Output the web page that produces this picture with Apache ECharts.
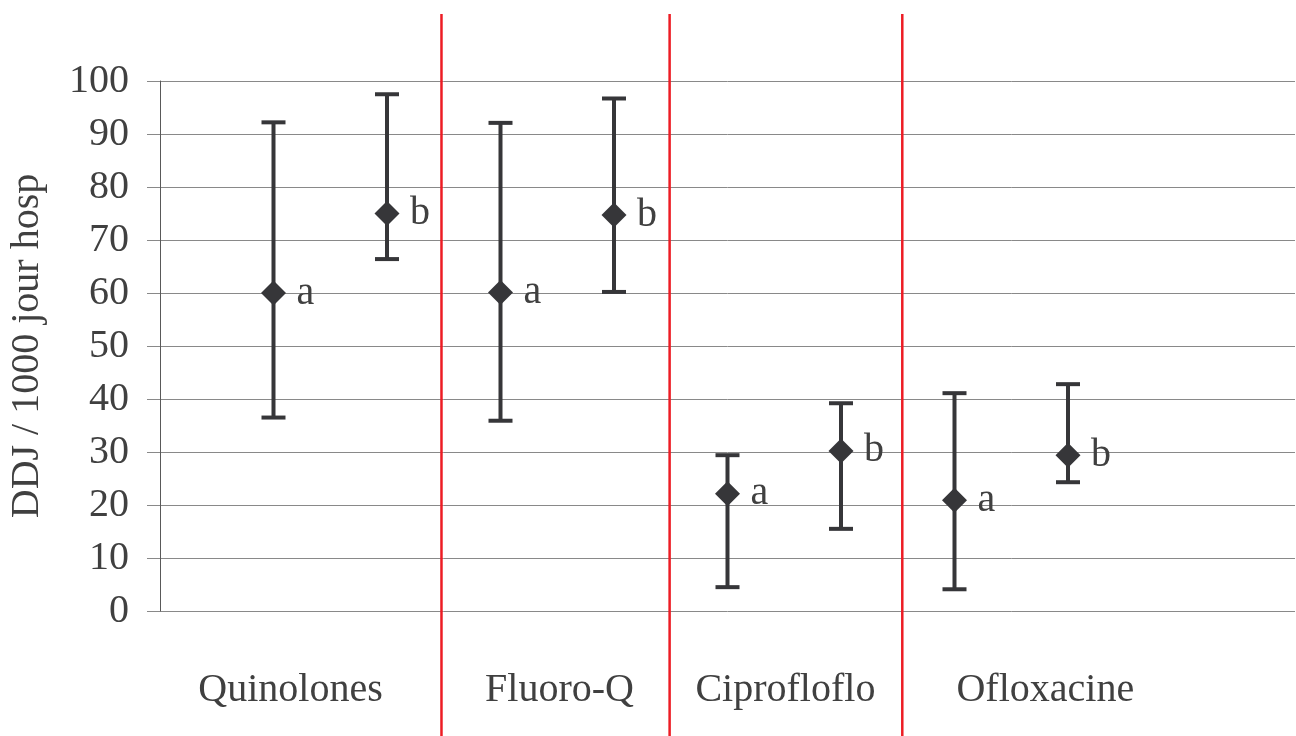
<!DOCTYPE html>
<html>
<head>
<meta charset="utf-8">
<script src="https://cdn.jsdelivr.net/npm/echarts@6/dist/echarts.min.js"></script>
<style>
  html, body { margin: 0; padding: 0; background: #fff; }
  #chart { width: 1296px; height: 736px; }
</style>
</head>
<body>
<div id="chart"></div>
<script>
// Antibiotic consumption (DDD / 1000 patient-days): mean with range, two periods per class
const groups = ['Quinolones', 'Fluoro-Q', 'Ciprofloflo', 'Ofloxacine'];
const groupLabelX = [1.15, 3.52, 5.51, 7.8];
const dividerX = [2.48, 4.49, 6.54];

const pointX = [1, 2, 3, 4, 5, 6, 7, 8];
const pointTag = ['a', 'b', 'a', 'b', 'a', 'b', 'a', 'b'];
const means = [60.0, 75.0, 60.1, 74.7, 22.1, 30.2, 20.9, 29.4];
const upper = [92.2, 97.5, 92.1, 96.7, 29.4, 39.2, 41.1, 42.8];
const lower = [36.5, 66.4, 35.9, 60.2, 4.5, 15.5, 4.1, 24.3];

const yTicks = [0, 10, 20, 30, 40, 50, 60, 70, 80, 90, 100];
const yMin = 0, yMax = 100, yStep = 10;
const axisTitle = 'DDJ / 1000 jour hosp';

const FONT = 'Liberation Serif';
const INK = '#363639';
const TEXT = '#404040';

const chart = echarts.init(document.getElementById('chart'), null, { renderer: 'canvas' });

const option = {
  backgroundColor: '#ffffff',
  animation: false,
  grid: { left: 160, right: 1, top: 81, bottom: 125, containLabel: false },
  xAxis: {
    type: 'value', min: 0, max: 10,
    show: false
  },
  yAxis: {
    type: 'value', min: yMin, max: yMax, interval: yStep,
    axisLine: { show: true, lineStyle: { color: '#595959', width: 1 } },
    axisTick: { show: true, inside: false, length: 13, lineStyle: { color: '#898989', width: 1 } },
    axisLabel: { show: false },
    splitLine: { show: true, lineStyle: { color: '#898989', width: 1 } }
  },
  series: [
    {
      // vertical range bars with end caps
      type: 'custom',
      name: 'range',
      data: pointX.map((x, i) => [x, upper[i], lower[i]]),
      encode: { x: 0, y: [1, 2] },
      renderItem: function (params, api) {
        const x = api.value(0);
        const top = api.coord([x, api.value(1)]);
        const bot = api.coord([x, api.value(2)]);
        const half = 12;
        const style = { stroke: INK, lineWidth: 4, fill: null };
        return {
          type: 'group',
          children: [
            { type: 'line', shape: { x1: top[0], y1: top[1], x2: bot[0], y2: bot[1] }, style: style },
            { type: 'line', shape: { x1: top[0] - half, y1: top[1], x2: top[0] + half, y2: top[1] }, style: style },
            { type: 'line', shape: { x1: bot[0] - half, y1: bot[1], x2: bot[0] + half, y2: bot[1] }, style: style }
          ]
        };
      },
      z: 2
    },
    {
      // mean markers
      type: 'scatter',
      name: 'mean',
      data: pointX.map((x, i) => [x, means[i]]),
      symbol: 'diamond',
      symbolSize: [25, 25],
      itemStyle: { color: INK, opacity: 1 },
      z: 3
    },
    {
      // period letters beside each mean
      type: 'custom',
      name: 'tag',
      data: pointX.map((x, i) => [x, means[i], pointTag[i]]),
      encode: { x: 0, y: 1 },
      clip: false,
      renderItem: function (params, api) {
        const p = api.coord([api.value(0), api.value(1)]);
        return {
          type: 'text',
          x: p[0] + 23, y: p[1],
          style: {
            text: pointTag[params.dataIndex],
            fontFamily: FONT, fontSize: 40, fill: TEXT,
            align: 'left', verticalAlign: 'middle'
          }
        };
      },
      z: 4
    }
  ]
};

chart.setOption(option);

// Axis labels, axis title, class separators and class names
const graphics = [];
yTicks.forEach(v => {
  const py = chart.convertToPixel({ yAxisIndex: 0 }, v);
  graphics.push({
    type: 'text',
    x: 129, y: py,
    style: {
      text: String(v), fontFamily: FONT, fontSize: 40, fill: TEXT,
      align: 'right', verticalAlign: 'middle'
    }
  });
});
const yMid = (chart.convertToPixel({ yAxisIndex: 0 }, yMin) + chart.convertToPixel({ yAxisIndex: 0 }, yMax)) / 2;
graphics.push({
  type: 'text',
  x: 27, y: yMid,
  rotation: Math.PI / 2,
  style: {
    text: axisTitle, fontFamily: FONT, fontSize: 40, fill: TEXT,
    align: 'center', verticalAlign: 'middle'
  }
});
dividerX.forEach(v => {
  const px = chart.convertToPixel({ xAxisIndex: 0 }, v);
  graphics.push({
    type: 'line',
    shape: { x1: px, y1: 14, x2: px, y2: 736 },
    style: { stroke: '#ed1c24', lineWidth: 2.5 },
    z: 10
  });
});
groups.forEach((g, i) => {
  const px = chart.convertToPixel({ xAxisIndex: 0 }, groupLabelX[i]);
  graphics.push({
    type: 'text',
    x: px, y: 690,
    style: {
      text: g, fontFamily: FONT, fontSize: 40, fill: TEXT,
      align: 'center', verticalAlign: 'middle'
    },
    z: 10
  });
});
chart.setOption({ graphic: graphics });
</script>
</body>
</html>
